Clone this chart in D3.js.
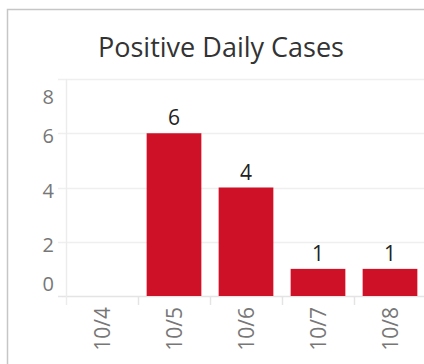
<!DOCTYPE html>
<html>
<head>
<meta charset="utf-8">
<script src="https://cdn.jsdelivr.net/npm/d3@7"></script>
<style>
  html, body { margin: 0; padding: 0; background: #fff; }
  svg { display: block; }
  text { font-family: "Open Sans", Lato, sans-serif; }
</style>
</head>
<body>
<svg id="chart" width="424" height="364"></svg>
<script>
// Daily positive case counts
const dates = ["10/4", "10/5", "10/6", "10/7", "10/8"];
const cases = [0, 6, 4, 1, 1];
const yTicks = [0, 2, 4, 6, 8];

const W = 424, H = 364;
const svg = d3.select("#chart");

// Dashboard frame
svg.append("path")
  .attr("d", `M7.5,${H} V9.5 H${W}`)
  .attr("fill", "none")
  .attr("stroke", "#c6c6c6")
  .attr("stroke-width", 1.5);

// Title
svg.append("text")
  .attr("x", 221)
  .attr("y", 57)
  .attr("text-anchor", "middle")
  .attr("font-size", 27)
  .attr("fill", "#333")
  .text("Positive Daily Cases");

const plot = { left: 66, right: 426, top: 79, bottom: 296 };

const x = d3.scaleBand()
  .domain(dates)
  .range([plot.left, plot.right])
  .paddingInner(0.24)
  .paddingOuter(0.12);

const y = d3.scaleLinear()
  .domain([0, 8])
  .range([plot.bottom, plot.top]);

// Horizontal gridlines
svg.append("g")
  .selectAll("line")
  .data(yTicks)
  .join("line")
  .attr("x1", 58)
  .attr("x2", W)
  .attr("y1", d => Math.round(y(d)) + 0.5)
  .attr("y2", d => Math.round(y(d)) + 0.5)
  .attr("stroke", d => d === 0 ? "#e4e4e4" : "#efefef")
  .attr("stroke-width", 1.5);

// Category separators / ticks along the bottom
const step = x.step();
const bounds = dates.map((d, i) => plot.left + i * step);
svg.append("g")
  .selectAll("line")
  .data(bounds)
  .join("line")
  .attr("x1", d => Math.round(d) + 0.5)
  .attr("x2", d => Math.round(d) + 0.5)
  .attr("y1", (d, i) => i === 0 ? plot.top : plot.bottom)
  .attr("y2", plot.bottom + 9)
  .attr("stroke", (d, i) => i === 0 ? "#ececec" : "#e4e4e4")
  .attr("stroke-width", 1.5);

// Y tick labels (end labels nudged inside the axis range)
svg.append("g")
  .selectAll("text")
  .data(yTicks)
  .join("text")
  .attr("x", 54)
  .attr("y", d => y(d))
  .attr("dy", d => d === 8 ? 25 : d === 0 ? -5 : 10)
  .attr("text-anchor", "end")
  .attr("font-size", 20)
  .attr("fill", "#777")
  .text(d => d);

// Bars
svg.append("g")
  .selectAll("rect")
  .data(dates.map((d, i) => ({ date: d, value: cases[i] })))
  .join("rect")
  .attr("x", d => x(d.date))
  .attr("y", d => y(d.value))
  .attr("width", x.bandwidth())
  .attr("height", d => y(0) - y(d.value))
  .attr("fill", "#cf1128");

// Value labels
svg.append("g")
  .selectAll("text")
  .data(dates.map((d, i) => ({ date: d, value: cases[i] })).filter(d => d.value > 0))
  .join("text")
  .attr("x", d => x(d.date) + x.bandwidth() / 2)
  .attr("y", d => y(d.value) - 8)
  .attr("text-anchor", "middle")
  .attr("font-size", 21)
  .attr("fill", "#222")
  .text(d => d.value);

// X tick labels, rotated
svg.append("g")
  .selectAll("text")
  .data(dates)
  .join("text")
  .attr("transform", d => `translate(${bounds[dates.indexOf(d)] + step / 2 + 8},${plot.bottom + 11}) rotate(-90)`)
  .attr("text-anchor", "end")
  .attr("font-size", 21)
  .attr("fill", "#777")
  .text(d => d);
</script>
</body>
</html>
